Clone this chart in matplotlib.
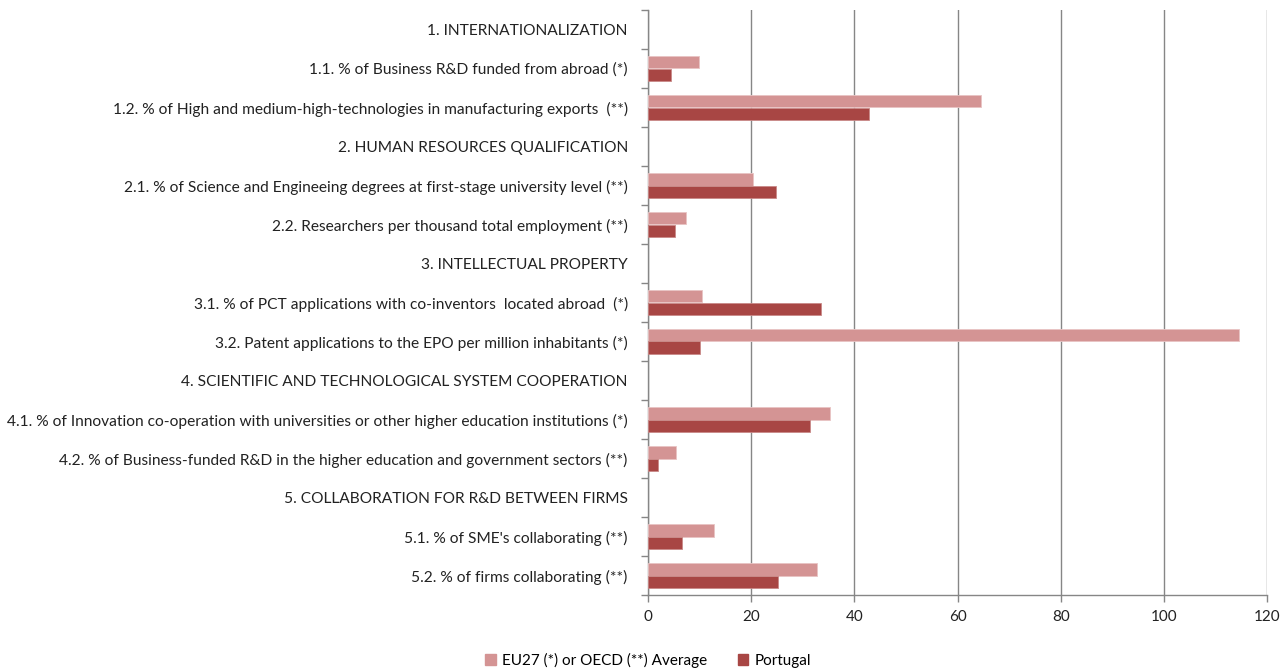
import matplotlib
matplotlib.use("Agg")
import matplotlib.pyplot as plt
from matplotlib.patches import Patch
import numpy as np

categories = [
    "1. INTERNATIONALIZATION",
    "1.1. % of Business R&D funded from abroad (*)",
    "1.2. % of High and medium-high-technologies in manufacturing exports  (**)",
    "2. HUMAN RESOURCES QUALIFICATION",
    "2.1. % of Science and Engineeing degrees at first-stage university level (**)",
    "2.2. Researchers per thousand total employment (**)",
    "3. INTELLECTUAL PROPERTY",
    "3.1. % of PCT applications with co-inventors  located abroad  (*)",
    "3.2. Patent applications to the EPO per million inhabitants (*)",
    "4. SCIENTIFIC AND TECHNOLOGICAL SYSTEM COOPERATION",
    "4.1. % of Innovation co-operation with universities or other higher education institutions (*)",
    "4.2. % of Business-funded R&D in the higher education and government sectors (**)",
    "5. COLLABORATION FOR R&D BETWEEN FIRMS",
    "5.1. % of SME's collaborating (**)",
    "5.2. % of firms collaborating (**)",
]
eu_avg = [np.nan, 9.8, 64.6, np.nan, 20.3, 7.4, np.nan, 10.4, 114.6, np.nan, 35.3, 5.5, np.nan, 12.8, 32.8]
portugal = [np.nan, 4.4, 42.8, np.nan, 24.9, 5.2, np.nan, 33.5, 10.0, np.nan, 31.4, 2.0, np.nan, 6.6, 25.2]
series_names = ["EU27 (*) or OECD (**) Average", "Portugal"]
x_ticks = [0, 20, 40, 60, 80, 100, 120]

c_light = "#D49494"
c_dark = "#A84644"
grey = "#868686"

plt.rcParams['font.family'] = ['Lato', 'DejaVu Sans']

fig = plt.figure(figsize=(12.87, 6.72), dpi=100)
ax = fig.add_axes([648/1287, 1 - 595/672, (1267 - 648)/1287, 585/672])

n = len(categories)
y = np.arange(n)
h = 0.31
ax.barh(y - h/2, eu_avg, height=h, color=c_light, edgecolor="#E8C4C4", linewidth=0.6, zorder=3)
ax.barh(y + h/2, portugal, height=h, color=c_dark, edgecolor="#C98A88", linewidth=0.6, zorder=3)

ax.set_ylim(n - 0.5, -0.5)
ax.set_xlim(0, 120)
ax.set_xticks(x_ticks)
ax.set_xticklabels([str(t) for t in x_ticks], fontsize=11, color="#222222")
ax.set_yticks(y)
ax.set_yticklabels(categories, fontsize=11.2, color="#222222")
ax.tick_params(axis='y', which='major', length=0, pad=14.5)
ax.set_yticks(np.arange(-0.5, n, 1), minor=True)
ax.tick_params(axis='y', which='minor', length=5, color=grey, width=1)
ax.tick_params(axis='x', length=5, color=grey, width=1, pad=6)

ax.grid(axis='x', color=grey, linewidth=1, zorder=0)
for s in ['top', 'right']:
    ax.spines[s].set_visible(False)
for s in ['left', 'bottom']:
    ax.spines[s].set_color(grey)
    ax.spines[s].set_linewidth(1)

handles = [Patch(color=c_light), Patch(color=c_dark)]
fig.legend(handles, series_names, loc='center', bbox_to_anchor=(648/1287, 1 - 660/672),
           ncol=2, frameon=False, fontsize=11, handlelength=0.7, handleheight=0.7,
           columnspacing=2.0, handletextpad=0.4)

fig.savefig("out.png", dpi=100, facecolor="white")
